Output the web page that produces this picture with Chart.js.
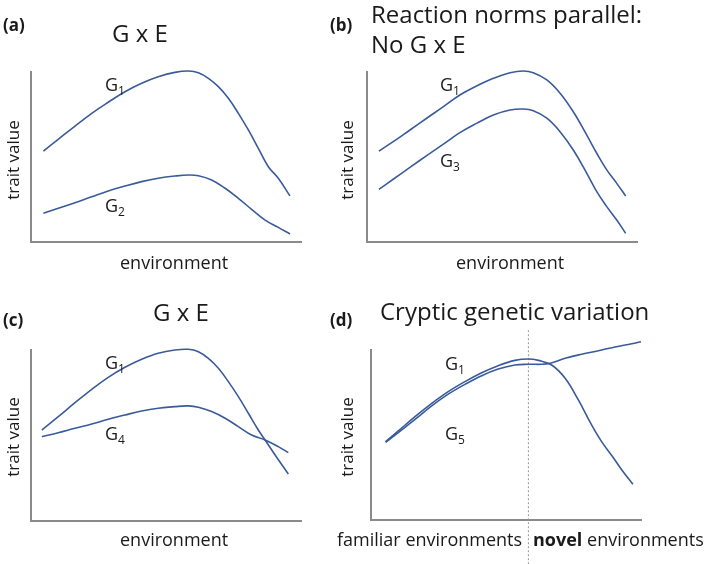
<!DOCTYPE html>
<html>
<head>
<meta charset="utf-8">
<script src="https://cdn.jsdelivr.net/npm/chart.js"></script>
<style>
  body { margin: 0; background: #fff; }
  #wrap { position: relative; width: 709px; height: 564px; overflow: hidden; font-family: "Open Sans", sans-serif; color: #1a1a1a; }
  canvas { position: absolute; }
  .t { position: absolute; white-space: nowrap; line-height: 1; transform: translateY(-50%); }
  .lbl { font-size: 17px; font-weight: bold; }
  .ttl { font-size: 24px; }
  .ax { font-size: 18px; }
  .g { font-size: 18px; }
  .g sub { font-size: 12px; vertical-align: -4px; line-height: 0; }
  .rot { position: absolute; white-space: nowrap; line-height: 1; font-size: 17px; transform: translate(-50%, -50%) rotate(-90deg); }
</style>
</head>
<body>
<div id="wrap">
  <canvas id="chartA" width="354" height="282" style="left:0;top:0"></canvas>
  <canvas id="chartB" width="355" height="282" style="left:354px;top:0"></canvas>
  <canvas id="chartC" width="354" height="282" style="left:0;top:282px"></canvas>
  <canvas id="chartD" width="355" height="282" style="left:354px;top:282px"></canvas>

  <div class="t lbl" style="left:3px;top:24px">(a)</div>
  <div class="t lbl" style="left:330px;top:24px">(b)</div>
  <div class="t lbl" style="left:3px;top:319px">(c)</div>
  <div class="t lbl" style="left:330px;top:319px">(d)</div>

  <div class="t ttl" style="left:112px;top:33px">G x E</div>
  <div class="t ttl" style="left:371px;top:14px">Reaction norms parallel:</div>
  <div class="t ttl" style="left:371px;top:44px">No G x E</div>
  <div class="t ttl" style="left:153px;top:312px">G x E</div>
  <div class="t ttl" style="left:380px;top:311px">Cryptic genetic variation</div>

  <div class="rot" style="left:12px;top:160px">trait value</div>
  <div class="rot" style="left:346px;top:160px">trait value</div>
  <div class="rot" style="left:12px;top:437px">trait value</div>
  <div class="rot" style="left:346px;top:437px">trait value</div>

  <div class="t ax" style="left:120px;top:262px">environment</div>
  <div class="t ax" style="left:456px;top:262px">environment</div>
  <div class="t ax" style="left:120px;top:539px">environment</div>
  <div class="t ax" style="left:337px;top:539px">familiar environments</div>
  <div class="t ax" style="left:533px;top:539px"><b>novel</b> environments</div>

  <div class="t g" style="left:105px;top:84px">G<sub>1</sub></div>
  <div class="t g" style="left:105px;top:205px">G<sub>2</sub></div>
  <div class="t g" style="left:440px;top:84px">G<sub>1</sub></div>
  <div class="t g" style="left:440px;top:160px">G<sub>3</sub></div>
  <div class="t g" style="left:105px;top:362px">G<sub>1</sub></div>
  <div class="t g" style="left:105px;top:433px">G<sub>4</sub></div>
  <div class="t g" style="left:445px;top:363px">G<sub>1</sub></div>
  <div class="t g" style="left:445px;top:433px">G<sub>5</sub></div>
</div>

<script>
// environment (x) runs 0..100, trait value (y) 0..100 in every panel

// (a) G x E
const aX1 = [4.6, 10.1, 16.3, 22.5, 28.6, 34.8, 41.0, 47.1, 53.3, 58.3, 62.0, 65.7, 69.4, 73.1, 76.8, 80.5, 84.2, 87.9, 91.6, 95.9];
const aG1 = [53.5, 60.4, 68.2, 75.7, 82.2, 88.4, 93.4, 97.2, 99.8, 100.6, 99.6, 96.3, 91.4, 84.5, 75.7, 65.9, 55.1, 44.3, 37.5, 27.1];
const aX2 = [4.6, 10.1, 16.3, 22.5, 28.6, 34.8, 41.0, 47.1, 53.3, 58.3, 62.0, 66.9, 71.9, 76.8, 81.7, 86.7, 91.6, 95.9];
const aG2 = [16.9, 19.8, 23.1, 26.6, 30.0, 32.9, 35.5, 37.5, 38.8, 39.4, 39.0, 36.5, 31.6, 25.7, 19.2, 12.9, 8.6, 4.7];

// (b) parallel reaction norms
const bX = [4.4, 9.7, 15.9, 22.1, 28.3, 34.4, 40.6, 46.8, 53.0, 57.9, 61.6, 66.6, 71.5, 76.4, 81.4, 85.1, 88.8, 92.5, 95.8];
const bG1 = [53.5, 59.0, 65.9, 72.8, 79.6, 86.5, 91.8, 96.3, 99.6, 100.6, 99.6, 95.3, 87.5, 76.6, 62.9, 52.2, 42.4, 34.5, 27.1];
const bG3 = [31.0, 36.9, 43.9, 50.8, 57.6, 64.3, 69.8, 74.7, 77.6, 78.2, 77.2, 72.8, 64.9, 54.1, 40.4, 29.6, 20.8, 12.9, 5.1];

// (c) crossing reaction norms
const cX1 = [4.0, 10.1, 16.3, 22.5, 28.6, 34.8, 41.0, 47.1, 53.3, 58.3, 62.0, 65.7, 69.4, 73.1, 76.8, 80.5, 84.2, 86.7, 90.4, 95.3];
const cG1 = [53.2, 61.0, 69.2, 77.0, 84.0, 89.9, 94.6, 98.1, 100, 100.4, 99.0, 95.1, 89.3, 81.5, 72.7, 63.0, 53.2, 47.4, 38.6, 27.5];
const cX4 = [4.0, 10.1, 16.3, 22.5, 28.6, 34.8, 41.0, 47.1, 53.3, 58.3, 62.0, 66.9, 71.9, 76.8, 81.7, 86.7, 91.6, 95.3];
const cG4 = [49.3, 51.6, 54.2, 56.7, 59.5, 62.0, 64.3, 65.9, 66.9, 67.3, 66.5, 64.0, 60.1, 55.2, 50.3, 47.4, 43.5, 40.0];

// (d) cryptic genetic variation
const dX1 = [5.4, 10.1, 16.3, 22.5, 28.6, 34.8, 41.0, 47.1, 53.3, 58.3, 62.0, 66.9, 71.9, 76.8, 81.7, 85.4, 89.5, 92.9, 97.0];
const dG1 = [46.1, 52.4, 60.8, 68.6, 75.5, 81.4, 86.6, 90.8, 93.9, 94.7, 93.9, 91.2, 83.4, 70.6, 55.9, 46.1, 37.2, 29.4, 21.0];
const dX5 = [5.4, 10.1, 16.3, 22.5, 28.6, 34.8, 41.0, 47.1, 53.3, 58.3, 63.2, 66.3, 71.9, 78.0, 84.2, 90.4, 96.6, 100];
const dG5 = [45.7, 51.4, 59.2, 67.1, 74.0, 79.8, 84.9, 88.8, 91.2, 91.6, 91.6, 92.2, 95.1, 97.5, 99.6, 101.8, 103.7, 104.9];
const dBoundaryX = 58.3;            // familiar | novel
const dBoundaryY = [-26, 112];

const lineColor = '#3a5b9a';
const axisColor = '#8a8a8a';

function pts(xs, ys) {
    return xs.map((x, i) => ({ x: x, y: ys[i] }));
}

function curve(xs, ys) {
    return {
        data: pts(xs, ys),
        borderColor: lineColor,
        borderWidth: 1.6,
        pointRadius: 0,
        tension: 0.4,
        fill: false,
        clip: false
    };
}

function SetupChart(id, datasets, pad) {
    const ctx = document.getElementById(id).getContext('2d');
    return new Chart(ctx, {
        type: 'line',
        data: { datasets: datasets },
        options: {
            responsive: false,
            animation: false,
            devicePixelRatio: 1,
            layout: { padding: pad },
            plugins: { legend: { display: false }, tooltip: { enabled: false } },
            scales: {
                x: {
                    type: 'linear', min: 0, max: 100,
                    grid: { display: false, drawTicks: false },
                    ticks: { display: false },
                    border: { display: true, color: axisColor, width: 2 }
                },
                y: {
                    type: 'linear', min: 0, max: 100,
                    grid: { display: false, drawTicks: false },
                    ticks: { display: false },
                    border: { display: true, color: axisColor, width: 2 }
                }
            }
        }
    });
}

SetupChart('chartA', [curve(aX1, aG1), curve(aX2, aG2)],
    { left: 31, top: 72, right: 53, bottom: 40 });
SetupChart('chartB', [curve(bX, bG1), curve(bX, bG3)],
    { left: 13, top: 72, right: 72, bottom: 40 });
SetupChart('chartC', [curve(cX1, cG1), curve(cX4, cG4)],
    { left: 31, top: 68, right: 53, bottom: 43 });
SetupChart('chartD', [
    curve(dX1, dG1),
    curve(dX5, dG5),
    {
        data: pts([dBoundaryX, dBoundaryX], dBoundaryY),
        borderColor: '#9a9a9a',
        borderWidth: 1,
        borderDash: [2, 2],
        pointRadius: 0,
        fill: false,
        clip: false
    }
], { left: 17, top: 68, right: 68, bottom: 44 });
</script>
</body>
</html>
